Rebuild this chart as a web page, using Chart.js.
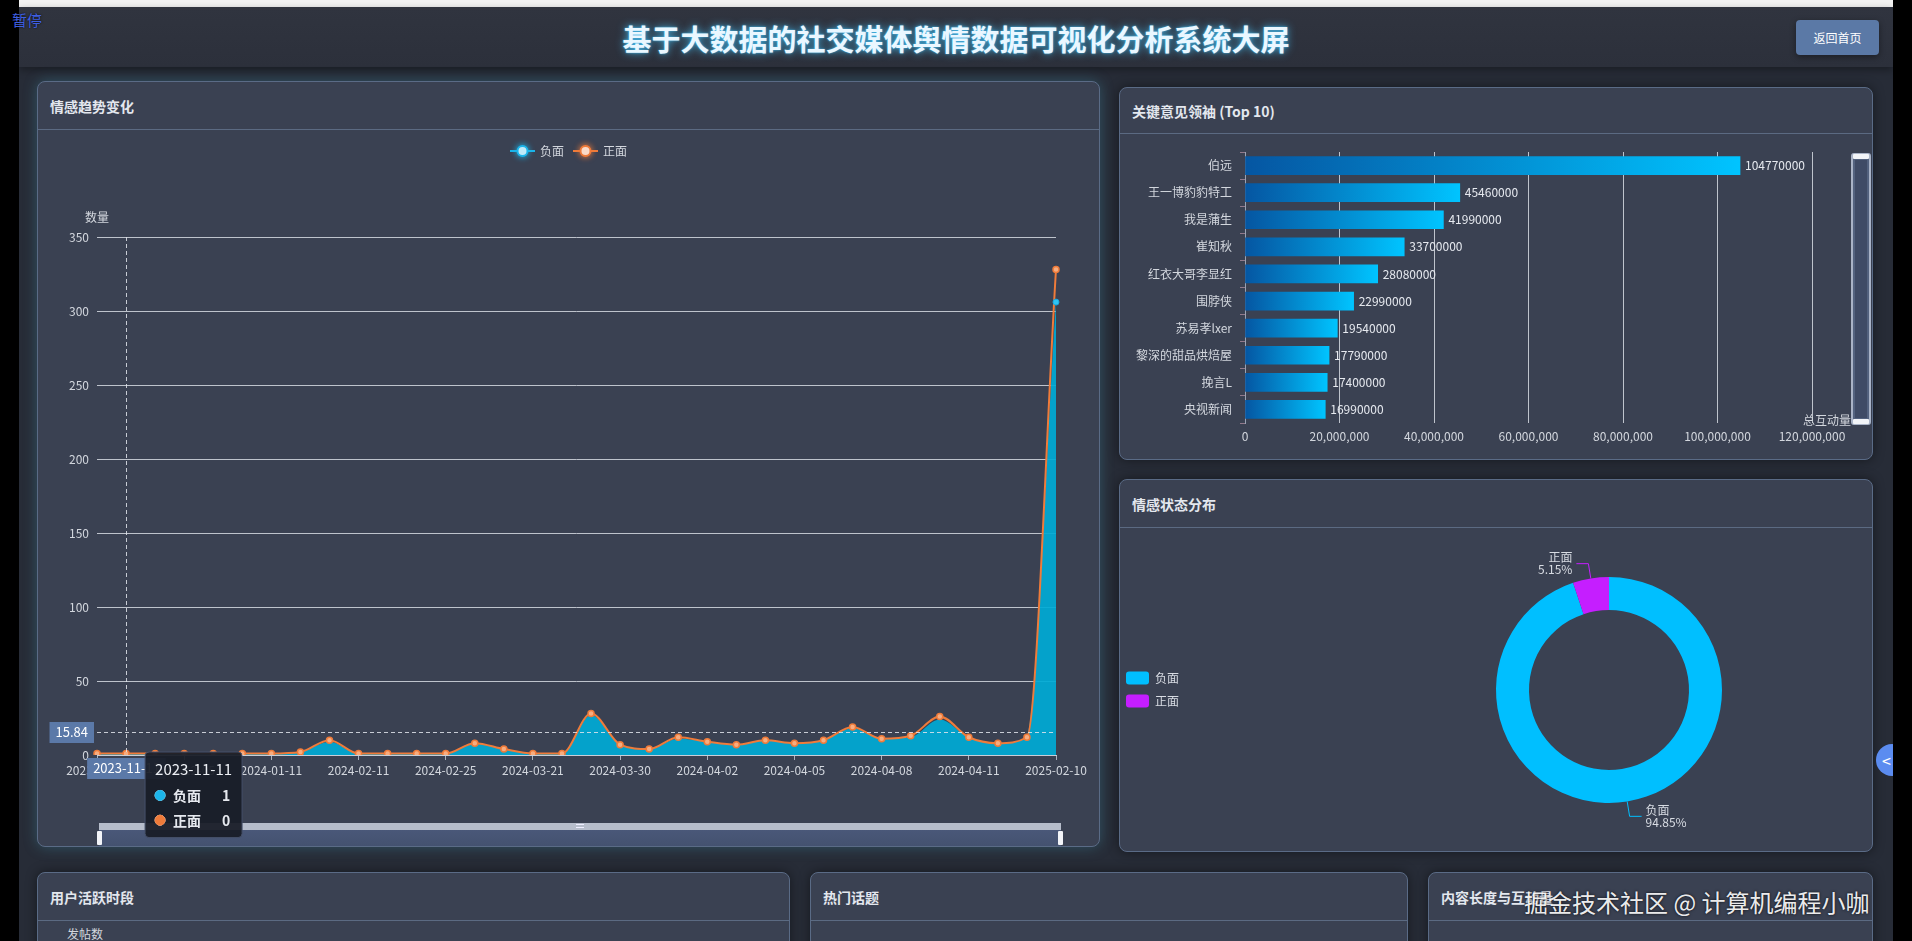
<!DOCTYPE html>
<html lang="zh-CN">
<head>
<meta charset="UTF-8">
<title>基于大数据的社交媒体舆情数据可视化分析系统大屏</title>
<script src="https://cdn.jsdelivr.net/npm/chart.js@4.4.1/dist/chart.umd.min.js"></script>
<style>
  * { box-sizing: border-box; margin: 0; padding: 0; }
  html, body { width: 1912px; height: 941px; overflow: hidden; background: #000; font-family: 'Noto Sans CJK SC', 'Noto Sans', sans-serif; }
  .abs { position: absolute; }
  .page-bg { left: 19px; top: 0; width: 1874px; height: 941px; background: #272c37; }
  .top-strip { left: 19px; top: 0; width: 1874px; height: 7px; background: #f3f3f3; }
  .header { left: 19px; top: 7px; width: 1874px; height: 60px; background: linear-gradient(#30343f, #2c303b); box-shadow: 0 3px 8px rgba(0,0,0,0.35); }
  .title { left: 19px; top: 8px; width: 1874px; height: 60px; line-height: 60px; text-align: center; font-size: 29px; font-weight: bold; color: #eaf7ff; text-shadow: 0 0 8px rgba(70,200,255,0.85), 0 0 2px rgba(70,200,255,0.9); }
  .pause { left: 12px; top: 9px; font-size: 15px; color: #3f5fe0; text-shadow: 0 0 2px #000; }
  .back-btn { left: 1796px; top: 20px; width: 83px; height: 35px; line-height: 35px; text-align: center; font-size: 12px; color: #fff; background: #5b79a6; border-radius: 4px; box-shadow: 0 2px 6px rgba(0,0,0,0.4); }
  .panel { position: absolute; background: #3a4152; border: 1px solid #5a6b86; border-radius: 8px; box-shadow: 0 0 12px rgba(0,0,0,0.45); overflow: hidden; }
  .panel.glow { box-shadow: 0 0 14px rgba(70,160,190,0.35); }
  .panel-head { height: 48px; line-height: 48px; border-bottom: 1px solid #5b6a82; padding-left: 12px; font-size: 14px; font-weight: bold; color: #e3e7ee; }
  canvas { position: absolute; }
  .slider-track { left: 99px; top: 823px; width: 962px; height: 23px; background: linear-gradient(#4c5a7c, #445270); }
  .slider-bar { left: 99px; top: 823px; width: 962px; height: 7px; background: #b6bdcb; }
  .slider-grip { left: 576px; top: 824px; width: 8px; height: 4px; border-top: 1px solid #eef; border-bottom: 1px solid #eef; }
  .handle { width: 5px; height: 14px; background: #f2f4f8; border-radius: 1px; }
  .vslider { left: 1851px; top: 153px; width: 20px; height: 272px; background: #53627f; border: 2px solid #a9b3c7; border-radius: 3px; }
  .vslider-inner { left: 1855px; top: 160px; width: 12px; height: 258px; background: #3f4b66; }
  .vhandle { width: 16px; height: 5px; background: #f2f4f8; border-radius: 1px; }
  .post-label { left: 67px; top: 925px; font-size: 12px; color: #d3d7de; }
  .watermark { left: 1524px; top: 884px; font-size: 24px; color: rgba(255,255,255,0.93); text-shadow: 0 0 3px rgba(0,0,0,0.8); white-space: nowrap; }
  .float-btn { left: 1876px; top: 744px; width: 32px; height: 32px; border-radius: 50%; background: #5b8cf0; color: #fff; font-size: 16px; line-height: 32px; padding-left: 6px; }
  .edge-right { left: 1893px; top: 0; width: 19px; height: 941px; background: #000; }
</style>
</head>
<body>
<div class="abs page-bg"></div>
<div class="abs top-strip"></div>
<div class="abs header"></div>
<div class="abs title">基于大数据的社交媒体舆情数据可视化分析系统大屏</div>
<div class="abs back-btn">返回首页</div>

<div class="panel glow" style="left:37px;top:81px;width:1063px;height:766px;"><div class="panel-head">情感趋势变化</div></div>
<div class="panel" style="left:1119px;top:87px;width:754px;height:373px;"><div class="panel-head" style="height:46px;line-height:46px;">关键意见领袖 (Top 10)</div></div>
<div class="panel" style="left:1119px;top:479px;width:754px;height:373px;"><div class="panel-head">情感状态分布</div></div>
<div class="panel" style="left:37px;top:872px;width:753px;height:120px;"><div class="panel-head">用户活跃时段</div></div>
<div class="panel" style="left:810px;top:872px;width:598px;height:120px;"><div class="panel-head">热门话题</div></div>
<div class="panel" style="left:1428px;top:872px;width:445px;height:120px;"><div class="panel-head">内容长度与互动量</div></div>
<div class="abs post-label">发帖数</div>

<div class="abs slider-track"></div>
<div class="abs slider-bar"></div>
<div class="abs slider-grip"></div>
<div class="abs handle" style="left:97px;top:831px;"></div>
<div class="abs handle" style="left:1058px;top:831px;"></div>

<div class="abs vslider"></div>
<div class="abs vslider-inner"></div>
<div class="abs vhandle" style="left:1853px;top:154px;"></div>
<div class="abs vhandle" style="left:1853px;top:419px;"></div>

<canvas id="trend-chart" width="1063" height="717" style="left:37px;top:130px;"></canvas>
<canvas id="leader-chart" width="754" height="326" style="left:1119px;top:134px;"></canvas>
<canvas id="sentiment-chart" width="754" height="324" style="left:1119px;top:528px;"></canvas>

<div class="abs watermark">掘金技术社区 @ 计算机编程小咖</div>
<div class="abs float-btn">&lt;</div>
<div class="abs edge-right"></div>
<div class="abs pause">暂停</div>

<script>
// ============= DATA =============

const trendDates = [
  '2023-10-26', '2023-11-11', '2023-11-20', '2023-12-05', '2023-12-18', '2024-01-02',
  '2024-01-11', '2024-01-20', '2024-02-01', '2024-02-11', '2024-02-15', '2024-02-20',
  '2024-02-25', '2024-03-05', '2024-03-12', '2024-03-21', '2024-03-25', '2024-03-28',
  '2024-03-30', '2024-03-31', '2024-04-01', '2024-04-02', '2024-04-03', '2024-04-04',
  '2024-04-05', '2024-04-06', '2024-04-07', '2024-04-08', '2024-04-09', '2024-04-10',
  '2024-04-11', '2024-04-12', '2024-04-13', '2025-02-10'
];
const negativeCounts = [1, 1, 1, 1, 1, 1, 1, 2, 9, 1, 1, 1, 1, 8, 4, 1, 1, 27, 7, 4, 11, 9, 7, 10, 8, 10, 18, 11, 12, 24, 12, 8, 12, 306];
const positiveCounts = [0, 0, 0, 0, 0, 0, 0, 0, 1, 0, 0, 0, 0, 0, 0, 0, 0, 1, 0, 0, 1, 0, 0, 0, 0, 0, 1, 0, 1, 2, 0, 0, 0, 22];
const trendYMax = 350;
const trendYStep = 50;
const pointerDateIndex = 1;   // hovered date (2023-11-11)
const pointerValue = 15.84;   // hovered y position

const leaderNames = ['伯远', '王一博豹豹特工', '我是蒲生', '崔知秋', '红衣大哥李显红', '围脖侠', '苏易孝lxer', '黎深的甜品烘焙屋', '挽言L', '央视新闻'];
const leaderInteractions = [104770000, 45460000, 41990000, 33700000, 28080000, 22990000, 19540000, 17790000, 17400000, 16990000];
const leaderXMax = 120000000;
const leaderXStep = 20000000;

const sentimentLabels = ['负面', '正面'];
const sentimentShares = [94.85, 5.15];
const sentimentColors = ['#00bfff', '#c51eff'];

// ============= SHARED =============

const FONT = "'Noto Sans CJK SC', 'Noto Sans', sans-serif";
const TEXT_COLOR = '#d3d7de';
const GRID_COLOR = 'rgba(214,218,226,0.85)';

Chart.defaults.font.family = FONT;
Chart.defaults.font.size = 12;
Chart.defaults.color = TEXT_COLOR;
Chart.defaults.animation = false;

// tooltip pinned next to the hovered date, like the screenshot
Chart.Tooltip.positioners.pinned = function () {
  const chart = this.chart;
  const x = chart.scales.x.getPixelForValue(pointerDateIndex) + 23;
  return { x: x, y: chart.chartArea.bottom - 3, xAlign: 'left', yAlign: 'top' };
};

// ============= TREND CHART =============

const NEG_COLOR = '#1cb5ea';
const POS_COLOR = '#ef7b3a';

const trendExtras = {
  id: 'trendExtras',
  afterDatasetsDraw(chart) {
    const { ctx, chartArea, scales } = chart;
    const x = Math.round(scales.x.getPixelForValue(pointerDateIndex)) + 0.5;
    const y = Math.round(scales.y.getPixelForValue(pointerValue)) + 0.5;

    ctx.save();
    ctx.strokeStyle = 'rgba(226,229,236,0.85)';
    ctx.lineWidth = 1;
    ctx.setLineDash([4, 3]);
    ctx.beginPath();
    ctx.moveTo(x, chartArea.top);
    ctx.lineTo(x, chartArea.bottom);
    ctx.moveTo(chartArea.left, y);
    ctx.lineTo(chartArea.right, y);
    ctx.stroke();
    ctx.setLineDash([]);

    // axis pointer labels
    ctx.font = '13px ' + FONT;
    ctx.textBaseline = 'middle';
    ctx.textAlign = 'center';
    const yText = pointerValue.toFixed(2);
    const yw = ctx.measureText(yText).width + 12;
    ctx.fillStyle = '#5b79a8';
    ctx.fillRect(chartArea.left - 3 - yw, y - 10.5, yw, 21);
    ctx.fillStyle = '#ffffff';
    ctx.fillText(yText, chartArea.left - 3 - yw / 2, y);

    const xText = trendDates[pointerDateIndex];
    const xw = ctx.measureText(xText).width + 12;
    ctx.fillStyle = '#5b79a8';
    ctx.fillRect(x - xw / 2, chartArea.bottom + 3, xw, 21);
    ctx.fillStyle = '#ffffff';
    ctx.fillText(xText, x, chartArea.bottom + 13.5);
    ctx.restore();
  },
  afterDraw(chart) {
    const { ctx, chartArea } = chart;
    ctx.save();
    ctx.font = '12px ' + FONT;
    ctx.textBaseline = 'middle';

    // y axis name
    ctx.fillStyle = TEXT_COLOR;
    ctx.textAlign = 'center';
    ctx.fillText('数量', chartArea.left, chartArea.top - 20);

    // legend: line + hollow circle icons
    ctx.textAlign = 'left';
    const items = chart.data.datasets.map(ds => ({ label: ds.label, color: ds.legendColor }));
    const iconW = 25, gap = 5, itemGap = 9;
    const widths = items.map(it => iconW + gap + ctx.measureText(it.label).width);
    const total = widths.reduce((a, b) => a + b, 0) + itemGap * (items.length - 1);
    let lx = (chart.width - total) / 2;
    const ly = 21;
    items.forEach((it, i) => {
      ctx.strokeStyle = it.color;
      ctx.lineWidth = 2;
      ctx.beginPath();
      ctx.moveTo(lx, ly);
      ctx.lineTo(lx + iconW, ly);
      ctx.stroke();
      ctx.shadowColor = it.color;
      ctx.shadowBlur = 6;
      ctx.fillStyle = '#ffffff';
      ctx.beginPath();
      ctx.arc(lx + iconW / 2, ly, 5, 0, Math.PI * 2);
      ctx.fill();
      ctx.lineWidth = 2;
      ctx.stroke();
      ctx.shadowBlur = 0;
      ctx.fillStyle = TEXT_COLOR;
      ctx.fillText(it.label, lx + iconW + gap, ly);
      lx += widths[i] + itemGap;
    });
    ctx.restore();
  }
};

const trendChart = new Chart(document.getElementById('trend-chart'), {
  type: 'line',
  data: {
    labels: trendDates,
    datasets: [
      {
        label: '负面',
        data: negativeCounts,
        legendColor: NEG_COLOR,
        borderColor: NEG_COLOR,
        borderWidth: 0,
        backgroundColor: 'rgba(0,170,214,0.92)',
        fill: 'origin',
        cubicInterpolationMode: 'monotone',
        // its symbols sit under the 正面 symbols except where the stack separates
        pointRadius: ctx => (positiveCounts[ctx.dataIndex] >= 5 ? 3 : 0),
        pointBackgroundColor: '#2ec4f5',
        pointBorderColor: '#1aa6dc',
        pointBorderWidth: 1
      },
      {
        label: '正面',
        data: positiveCounts,
        legendColor: POS_COLOR,
        borderColor: POS_COLOR,
        borderWidth: 2,
        fill: false,
        cubicInterpolationMode: 'monotone',
        pointRadius: 3,
        pointBackgroundColor: '#f7ad80',
        pointBorderColor: POS_COLOR,
        pointBorderWidth: 1.5
      }
    ]
  },
  options: {
    responsive: false,
    events: [],
    layout: { padding: { left: 0, right: 44, top: 107, bottom: 0 } },
    plugins: {
      legend: { display: false },
      filler: { drawTime: 'beforeDatasetsDraw' },
      tooltip: {
        position: 'pinned',
        mode: 'index',
        intersect: false,
        backgroundColor: 'rgba(24,29,39,0.94)',
        borderColor: '#46516a',
        borderWidth: 1,
        cornerRadius: 4,
        caretSize: 0,
        caretPadding: 0,
        padding: { top: 8, bottom: 9, left: 10, right: 10 },
        titleFont: { size: 15, weight: 'normal' },
        titleColor: '#eceff4',
        titleMarginBottom: 9,
        bodyFont: { size: 14, weight: 'bold' },
        bodyColor: '#e6e9ef',
        bodySpacing: 8,
        usePointStyle: true,
        boxWidth: 10,
        boxHeight: 10,
        boxPadding: 6,
        callbacks: {
          title: items => items[0].label,
          label: item => item.dataset.label + '\u2003\u2002' + item.raw,
          labelColor: item => ({ borderColor: item.dataset.legendColor, backgroundColor: item.dataset.legendColor }),
          labelPointStyle: () => ({ pointStyle: 'circle', rotation: 0 })
        }
      }
    },
    scales: {
      x: {
        offset: false,
        ticks: {
          autoSkip: false,
          maxRotation: 0,
          padding: 3,
          font: { size: 12 },
          color: TEXT_COLOR,
          callback: (value, index) => (index % 3 === 0 ? trendDates[index] : '')
        },
        grid: {
          drawOnChartArea: false,
          drawTicks: true,
          tickLength: 5,
          color: ctx => (ctx.index % 3 === 0 ? 'rgba(200,205,215,0.8)' : 'rgba(0,0,0,0)')
        },
        border: { color: '#c9ced8' },
        afterFit: scale => { scale.height = 92; }
      },
      y: {
        stacked: true,
        min: 0,
        max: trendYMax,
        ticks: { stepSize: trendYStep, padding: 8, color: TEXT_COLOR },
        grid: { color: GRID_COLOR, drawTicks: false },
        border: { display: false },
        afterFit: scale => { scale.width = 60; }
      }
    }
  },
  plugins: [trendExtras]
});

trendChart.tooltip.setActiveElements([
  { datasetIndex: 0, index: pointerDateIndex },
  { datasetIndex: 1, index: pointerDateIndex }
], { x: 0, y: 0 });
trendChart.update();

// ============= LEADER BAR CHART =============

const leaderExtras = {
  id: 'leaderExtras',
  afterDatasetsDraw(chart) {
    const { ctx, chartArea } = chart;
    const meta = chart.getDatasetMeta(0);
    ctx.save();
    ctx.font = '12px ' + FONT;
    ctx.fillStyle = '#e6e9ef';
    ctx.textAlign = 'left';
    ctx.textBaseline = 'middle';
    meta.data.forEach((bar, i) => {
      ctx.fillText(String(leaderInteractions[i]), bar.x + 5, bar.y);
    });
    // x axis name at the end of the axis
    ctx.textAlign = 'center';
    ctx.fillStyle = TEXT_COLOR;
    ctx.fillText('总互动量', chartArea.right + 15, chartArea.bottom - 3);
    ctx.restore();
  }
};

new Chart(document.getElementById('leader-chart'), {
  type: 'bar',
  data: {
    labels: leaderNames,
    datasets: [{
      label: '总互动量',
      data: leaderInteractions,
      barThickness: 18,
      borderWidth: 0,
      backgroundColor: function (context) {
        const chart = context.chart;
        const { ctx, chartArea, scales } = chart;
        if (!chartArea) return '#00bfff';
        const end = scales.x.getPixelForValue(context.raw);
        const g = ctx.createLinearGradient(chartArea.left, 0, end, 0);
        g.addColorStop(0, '#0556a2');
        g.addColorStop(1, '#00c4ff');
        return g;
      }
    }]
  },
  options: {
    indexAxis: 'y',
    responsive: false,
    events: [],
    layout: { padding: { left: 0, right: 61, top: 18, bottom: 0 } },
    plugins: { legend: { display: false }, tooltip: { enabled: false } },
    scales: {
      x: {
        min: 0,
        max: leaderXMax,
        ticks: {
          stepSize: leaderXStep,
          padding: 6,
          color: TEXT_COLOR,
          callback: v => Number(v).toLocaleString('en-US')
        },
        grid: { color: GRID_COLOR, drawTicks: false },
        border: { display: false },
        afterFit: scale => { scale.height = 37; }
      },
      y: {
        ticks: { padding: 8, color: TEXT_COLOR, font: { size: 12 } },
        grid: { drawOnChartArea: false, tickLength: 5, color: 'rgba(205,160,180,0.6)' },
        border: { color: '#9aa3b4' },
        afterFit: scale => { scale.width = 126; }
      }
    }
  },
  plugins: [leaderExtras]
});

// ============= SENTIMENT DONUT =============

const sentimentExtras = {
  id: 'sentimentExtras',
  afterDraw(chart) {
    const { ctx, chartArea } = chart;
    const meta = chart.getDatasetMeta(0);
    const total = sentimentShares.reduce((a, b) => a + b, 0);
    ctx.save();
    ctx.font = '12px ' + FONT;
    ctx.textBaseline = 'middle';

    // outside labels with leader lines
    meta.data.forEach((arc, i) => {
      const p = arc.getProps(['x', 'y', 'startAngle', 'endAngle', 'outerRadius'], true);
      const mid = (p.startAngle + p.endAngle) / 2;
      const cos = Math.cos(mid), sin = Math.sin(mid);
      const x0 = p.x + cos * p.outerRadius, y0 = p.y + sin * p.outerRadius;
      const x1 = p.x + cos * (p.outerRadius + 15), y1 = p.y + sin * (p.outerRadius + 15);
      const dir = cos >= 0 ? 1 : -1;
      const x2 = x1 + dir * 12;
      ctx.strokeStyle = sentimentColors[i];
      ctx.lineWidth = 1;
      ctx.beginPath();
      ctx.moveTo(x0, y0);
      ctx.lineTo(x1, y1);
      ctx.lineTo(x2, y1);
      ctx.stroke();
      ctx.fillStyle = '#d8dce3';
      ctx.textAlign = dir > 0 ? 'left' : 'right';
      const pct = (sentimentShares[i] / total * 100).toFixed(2) + '%';
      ctx.fillText(sentimentLabels[i], x2 + dir * 4, y1 - 6);
      ctx.fillText(pct, x2 + dir * 4, y1 + 6);
    });

    // vertical legend on the left
    const cy = (chartArea.top + chartArea.bottom) / 2;
    const rowH = 23;
    const startY = cy - rowH * (sentimentLabels.length - 1) / 2 - 0.5;
    ctx.textAlign = 'left';
    sentimentLabels.forEach((label, i) => {
      const y = startY + i * rowH;
      ctx.fillStyle = sentimentColors[i];
      ctx.beginPath();
      ctx.roundRect(7, y - 6.5, 23, 13, 3);
      ctx.fill();
      ctx.fillStyle = '#d8dce3';
      ctx.fillText(label, 36, y);
    });
    ctx.restore();
  }
};

new Chart(document.getElementById('sentiment-chart'), {
  type: 'doughnut',
  data: {
    labels: sentimentLabels,
    datasets: [{
      data: sentimentShares,
      backgroundColor: sentimentColors,
      borderWidth: 0
    }]
  },
  options: {
    responsive: false,
    events: [],
    cutout: '70.8%',
    layout: { padding: { left: 377, right: 151, top: 49, bottom: 49 } },
    plugins: { legend: { display: false }, tooltip: { enabled: false } }
  },
  plugins: [sentimentExtras]
});
</script>
</body>
</html>
